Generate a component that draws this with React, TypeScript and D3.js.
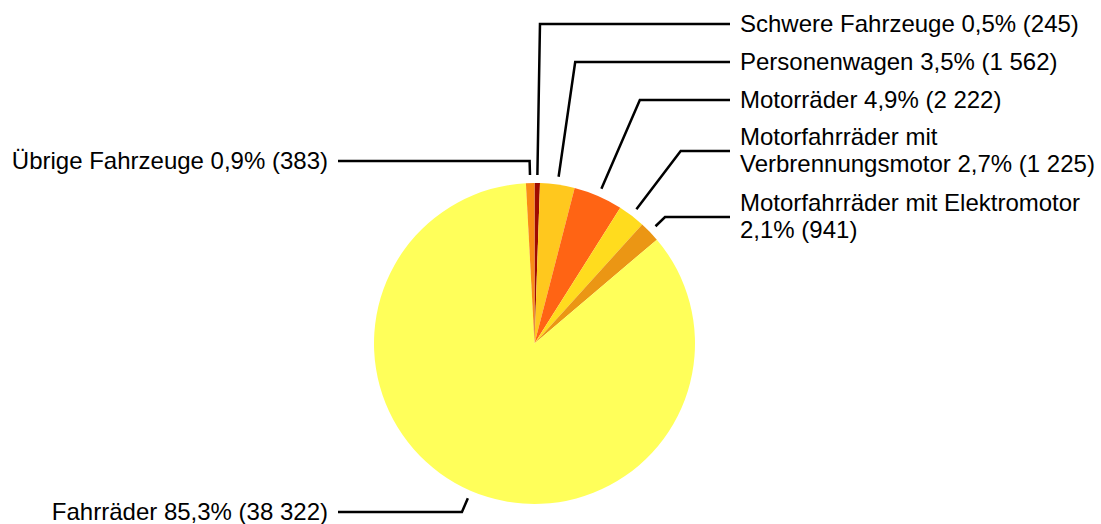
import { useEffect } from "react";
import * as d3 from "d3";

const categories = [
  "Schwere Fahrzeuge",
  "Personenwagen",
  "Motorräder",
  "Motorfahrräder mit Verbrennungsmotor",
  "Motorfahrräder mit Elektromotor",
  "Fahrräder",
  "Übrige Fahrzeuge",
];
const counts = [245, 1562, 2222, 1225, 941, 38322, 383];
const percentLabels = ["0,5%", "3,5%", "4,9%", "2,7%", "2,1%", "85,3%", "0,9%"];
const countLabels = ["245", "1 562", "2 222", "1 225", "941", "38 322", "383"];
const colors = ["#a00a00", "#ffc81e", "#ff6414", "#ffdc1e", "#eb9614", "#ffff5a", "#fa8c14"];

// where each label text is broken into lines
const labelLines = [
  ["Schwere Fahrzeuge 0,5% (245)"],
  ["Personenwagen 3,5% (1 562)"],
  ["Motorräder 4,9% (2 222)"],
  ["Motorfahrräder mit", "Verbrennungsmotor 2,7% (1 225)"],
  ["Motorfahrräder mit Elektromotor", "2,1% (941)"],
  ["Fahrräder 85,3% (38 322)"],
  ["Übrige Fahrzeuge 0,9% (383)"],
];
const labelY = [24, 62, 100, 151, 217, 512, 161];

const W = 1101;
const H = 524;
const cx = 534.5;
const cy = 343.5;
const R = 160.5;

export default function App() {
  useEffect(() => {
    document.body.style.margin = "0";
  }, []);

  const data = categories.map((c, i) => ({ c, v: counts[i], i }));
  const pie = d3.pie<any>().sort(null).value((d) => d.v);
  const arcs = pie(data);
  const arc = d3.arc<any>().innerRadius(0).outerRadius(R);

  const leaders = arcs.map((a, i) => {
    const mid = (a.startAngle + a.endAngle) / 2;
    const rs = R + 8;
    const x0 = cx + rs * Math.sin(mid);
    const y0 = cy - rs * Math.cos(mid);
    const ly = labelY[i];
    // elbow sits on the radial ray at label height
    const t = (cy - ly) / Math.cos(mid);
    const ex = cx + t * Math.sin(mid);
    const right = ex >= cx + 2;
    const lx = right ? 730 : 338;
    return { x0, y0, ex, ly, lx, right, i };
  });

  return (
    <svg width={W} height={H} style={{ display: "block", fontFamily: "Liberation Sans, Arial, sans-serif" }}>
      <g transform={`translate(${cx},${cy})`}>
        {arcs.map((a, i) => (
          <path key={i} d={arc(a) || ""} fill={colors[i]} />
        ))}
      </g>
      {leaders.map((l) => (
        <path
          key={"l" + l.i}
          d={`M${l.x0},${l.y0}L${l.ex},${l.ly}L${l.lx},${l.ly}`}
          fill="none"
          stroke="#000"
          strokeWidth={2.5}
        />
      ))}
      {leaders.map((l) => {
        const lines = labelLines[l.i];
        const lh = 27;
        const y0 = l.ly - ((lines.length - 1) * lh) / 2;
        const tx = l.right ? 740 : 328;
        return (
          <text key={"t" + l.i} textAnchor={l.right ? "start" : "end"} fontSize={24} fill="#000">
            {lines.map((s, k) => (
              <tspan key={k} x={tx} y={y0 + k * lh} dy="0.33em">
                {s}
              </tspan>
            ))}
          </text>
        );
      })}
    </svg>
  );
}
